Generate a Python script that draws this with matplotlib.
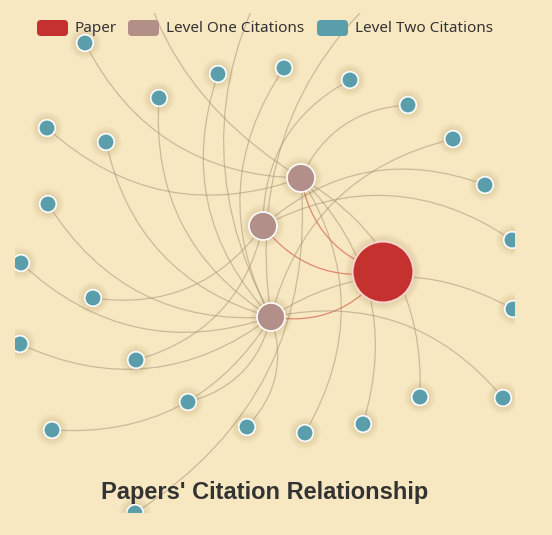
import matplotlib.pyplot as plt
from matplotlib.path import Path
from matplotlib.patches import PathPatch, Circle, FancyBboxPatch, Rectangle

# graph layout (pixel positions, y down)
paper_x, paper_y = 383, 272

lvl1_names = ["A", "B", "C"]
lvl1_x = [301, 263, 271]
lvl1_y = [178, 226, 317]

lvl2_x = [85, 218, 284, 350, 159, 408, 47, 106, 453, 485,
          48, 512, 21, 93, 513, 20, 136, 188, 420, 503,
          52, 247, 305, 363, 135, 130, 290, 420]
lvl2_y = [43, 74, 68, 80, 98, 105, 128, 142, 139, 185,
          204, 240, 263, 298, 309, 344, 360, 402, 397, 398,
          430, 427, 433, 424, 513, -150, -60, -40]
lvl2_parent = ["A", "C", "C", "B", "C", "A", "A", "C", "C", "B",
               "C", "B", "C", "B", "C", "C", "B", "C", "A", "C",
               "C", "C", "A", "A", "A", "A", "C", "C"]

categories = ["Paper", "Level One Citations", "Level Two Citations"]
colors = ["#c4312e", "#b28f89", "#5a9eac"]
sizes = [30.5, 14, 8.3]

bg = "#f8e8c2"
curveness = 0.3

fig = plt.figure(figsize=(5.52, 5.35), dpi=100)
fig.patch.set_facecolor(bg)
ax = fig.add_axes([0, 0, 1, 1])
ax.set_xlim(0, 552)
ax.set_ylim(535, 0)
ax.axis("off")

clip = Rectangle((15, 13), 500, 500, transform=ax.transData)


def add_clipped(patch):
    ax.add_patch(patch)
    patch.set_clip_path(clip)


def edge(x1, y1, x2, y2, color, alpha):
    # quadratic curve like echarts' curveness
    cx = (x1 + x2) / 2 - (y1 - y2) * curveness
    cy = (y1 + y2) / 2 - (x2 - x1) * curveness
    p = Path([(x1, y1), (cx, cy), (x2, y2)],
             [Path.MOVETO, Path.CURVE3, Path.CURVE3])
    add_clipped(PathPatch(p, fc="none", ec=color, lw=0.9, alpha=alpha, zorder=1))


def node(x, y, r, color, ec="white", lw=1.2):
    # soft glow under the node
    for k in range(6, 0, -1):
        add_clipped(Circle((x, y), r + k * 1.3, fc="#9a7a40", ec="none",
                           alpha=0.035, zorder=2))
    add_clipped(Circle((x, y), r, fc=color, ec=ec, lw=lw, zorder=3))


lvl1 = dict(zip(lvl1_names, zip(lvl1_x, lvl1_y)))

# edges: paper -> level one, level one -> level two
for x, y in zip(lvl1_x, lvl1_y):
    edge(paper_x, paper_y, x, y, "#d2604a", 0.7)
for x, y, p in zip(lvl2_x, lvl2_y, lvl2_parent):
    px, py = lvl1[p]
    edge(px, py, x, y, "#a8927a", 0.55)

for x, y in zip(lvl2_x, lvl2_y):
    node(x, y, sizes[2], colors[2])
for x, y in zip(lvl1_x, lvl1_y):
    node(x, y, sizes[1], colors[1])
node(paper_x, paper_y, sizes[0], colors[0], ec="#f3d6cc", lw=1.5)

# legend
leg_x = [37, 128, 317]
for lx, name, col in zip(leg_x, categories, colors):
    ax.add_patch(FancyBboxPatch((lx, 20), 31, 16,
                                boxstyle="round,pad=0,rounding_size=4",
                                fc=col, ec="none", zorder=5))
    ax.text(lx + 38, 28, name, fontsize=11, family="Noto Sans",
            color="#333333", va="center", ha="left", zorder=5)

ax.text(265, 492, "Papers' Citation Relationship", fontsize=17,
        family="Liberation Sans", fontweight="bold", color="#333333",
        ha="center", va="center", zorder=5)

fig.savefig("out.png", dpi=100, facecolor=bg)
